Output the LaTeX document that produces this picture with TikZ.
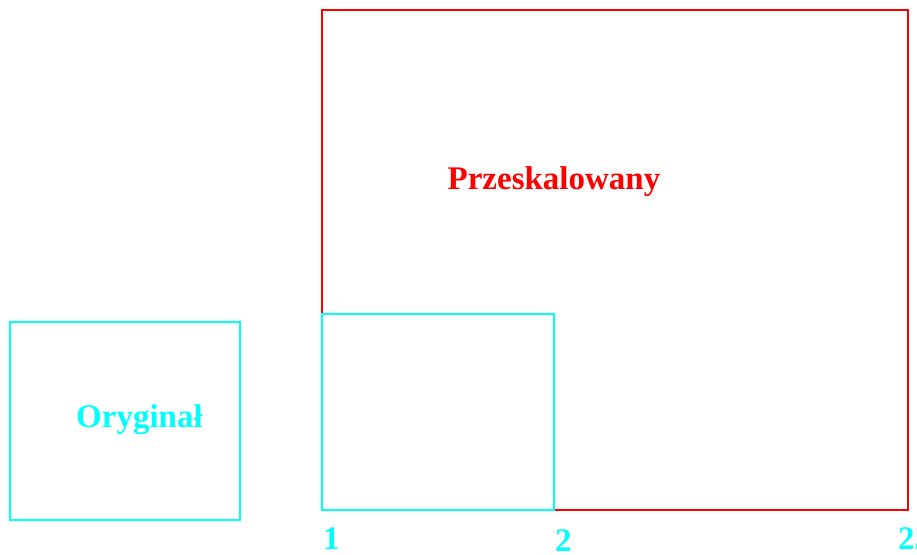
\documentclass[tikz,border=0pt]{standalone}
\usepackage{fontspec}
\setmainfont{Liberation Serif}
\definecolor{origcyan}{RGB}{0,255,255}
\definecolor{scalered}{RGB}{255,0,0}

\tikzset{every picture/.style={line width=1.5pt}}
\tikzset{bigtext/.style={inner sep=0pt,font=\fontsize{24.75}{28}\selectfont\bfseries}}

\begin{document}
\begin{tikzpicture}[x=0.75pt,y=0.75pt,yscale=-1,xscale=1]
\useasboundingbox (0,0) rectangle (917,554);

%Shape: Rectangle [scaled]
\draw [color=scalered] (322,10) rectangle (908,510);
%Shape: Rectangle [original]
\draw [color=origcyan] (10,322) rectangle (240,520);
%Shape: Rectangle [original, placed in corner]
\draw [color=origcyan] (322,314) rectangle (554,510);

% Text Node
\node (orig) [bigtext, anchor=base, text=origcyan] at (139.5,427) {Oryginał};
% Text Node
\node (scaled) [bigtext, anchor=base, text=scalered] at (554,189) {Przeskalowany};
% Text Node
\node (one) [bigtext, anchor=base west, text=origcyan] at (322,549) {1};
% Text Node
\node (two) [bigtext, anchor=base west, text=origcyan] at (554,551) {2};
% Text Node
\node (end) [bigtext, anchor=base west, text=origcyan] at (897,549) {25};

\end{tikzpicture}
\end{document}
